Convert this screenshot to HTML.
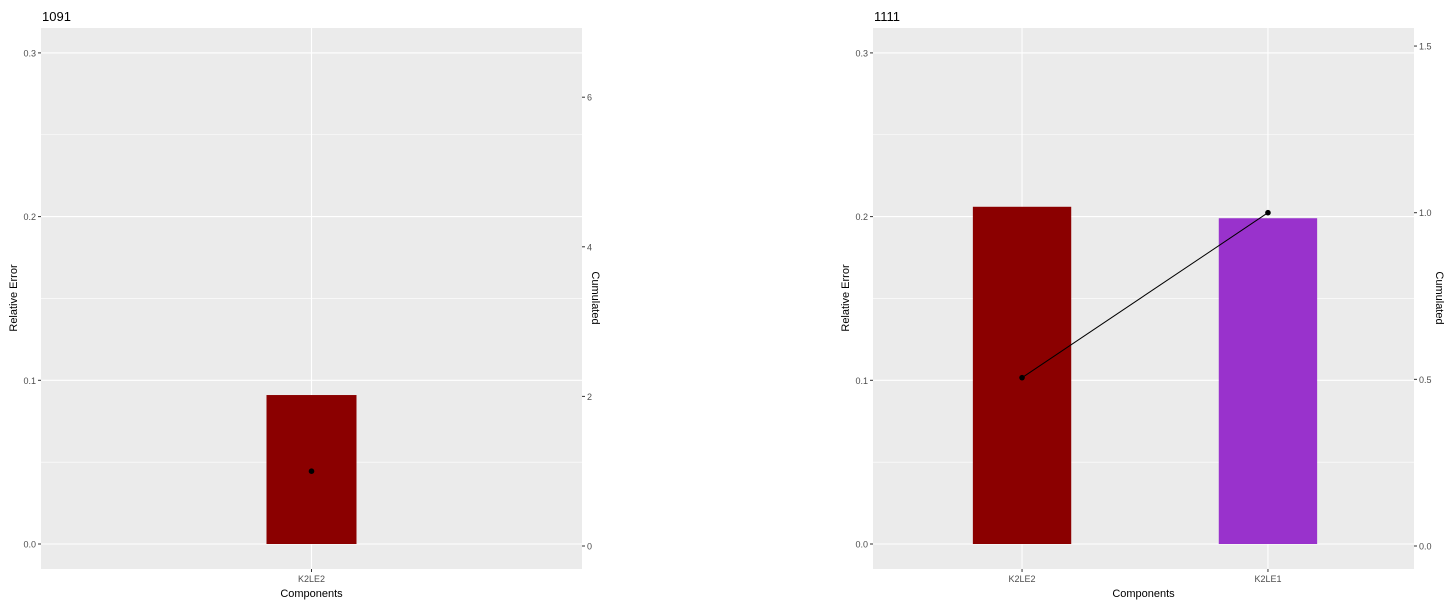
<!DOCTYPE html>
<html><head><meta charset="utf-8"><style>
body{margin:0;background:#fff;width:1455px;height:603px;overflow:hidden;font-family:"Liberation Sans",Arial,sans-serif}
svg{display:block}
</style></head><body>
<svg id="c" width="1455" height="603" xmlns="http://www.w3.org/2000/svg"></svg>
<script>
const titles=["1091","1111"];
const cats0=["K2LE2"];
const vals0=[0.091];
const cum0=[1];
const cats1=["K2LE2","K2LE1"];
const vals1=[0.206,0.199];
const cum1=[0.505,1.0];
const colors1=["#8B0000","#9932CC"];
const yTicks=[0,0.1,0.2,0.3];
const yLabels=["0.0","0.1","0.2","0.3"];
const rTicks0=[0,2,4,6];
const rTicks1=[0,0.5,1.0,1.5];
const rLabels1=["0.0","0.5","1.0","1.5"];

const NS="http://www.w3.org/2000/svg";
const svg=document.getElementById('c');
function mk(tag,attrs,parent){const e=document.createElementNS(NS,tag);for(const k in attrs)e.setAttribute(k,attrs[k]);(parent||svg).appendChild(e);return e;}

function panel(ox,title,cats,vals,cum,cols,rTicks,rLabels,rScale,rTitleOff){
  const g=mk('g',{});
  
  
  const L=ox,R=ox+541,T=28,B=569;
  const y=v=>544-v*1637;
  const n=cats.length;
  const x=i=> n===1 ? (L+R)/2 : L+1.5+(R-L)*(i+0.6)/(n+0.2);
  const bw= n===1 ? 90 : 0.4*(R-L)/(n+0.2);
  const bg=mk('rect',{x:L,y:T,width:R-L,height:B-T,fill:'#EBEBEB'},g);
  
  
  for(let i=0;i<yTicks.length-1;i++){mk('line',{x1:L,x2:R,y1:y(yTicks[i]+0.05),y2:y(yTicks[i]+0.05),stroke:'#fff','stroke-width':0.6},g);}
  yTicks.forEach((t,i)=>{
    mk('line',{x1:L,x2:R,y1:y(t),y2:y(t),stroke:'#fff','stroke-width':1.1},g);
    mk('line',{x1:L-3,x2:L,y1:y(t),y2:y(t),stroke:'#333'},g);
    const tx=mk('text',{x:L-5,y:y(t)+3.5,'font-size':9,fill:'#4D4D4D','text-anchor':'end'},g);
    tx.textContent=yLabels[i];
    
    
  });
  rTicks.forEach((t,i)=>{
    const yy=546-t*rScale;
    mk('line',{x1:R,x2:R+3,y1:yy,y2:yy,stroke:'#333'},g);
    const tx=mk('text',{x:R+5,y:yy+3.5,'font-size':9,fill:'#4D4D4D'},g);
    tx.textContent=rLabels[i];
    
    
  });
  const xs=cats.map((c,i)=>x(i));
  xs.forEach((cx,i)=>{
    mk('line',{x1:cx,x2:cx,y1:T,y2:B,stroke:'#fff','stroke-width':1.1},g);
    const b=mk('rect',{x:cx-bw/2,y:y(vals[i]),width:bw,height:y(0)-y(vals[i]),fill:cols[i]},g);
    
    
    mk('line',{x1:cx,x2:cx,y1:B,y2:B+3,stroke:'#333'},g);
    const tx=mk('text',{x:cx,y:B+13,'font-size':9,fill:'#4D4D4D','text-anchor':'middle'},g);
    tx.textContent=cats[i];
    
    
  });
  if(n>1){
    const pts=xs.map((cx,i)=>cx+','+(546-cum[i]*rScale)).join(' ');
    const pl=mk('polyline',{points:pts,fill:'none',stroke:'#000','stroke-width':1},g);
    
    
  }
  xs.forEach((cx,i)=>{
    const c=mk('circle',{cx:cx,cy:546-cum[i]*rScale,r:2.8,fill:'#000'},g);
    
    
  });
  const tt=mk('text',{x:L+1,y:21,'font-size':13,fill:'#000'},g);
  tt.textContent=title;
  
  
  const yl=mk('text',{x:0,y:0,'font-size':11,fill:'#000','text-anchor':'middle',transform:`translate(${L-24},298) rotate(-90)`},g);
  yl.textContent='Relative Error';
  
  
  const rl=mk('text',{x:0,y:0,'font-size':11,fill:'#000','text-anchor':'middle',transform:`translate(${R+rTitleOff},298) rotate(90)`},g);
  rl.textContent='Cumulated';
  
  
  const xl=mk('text',{x:(L+R)/2,y:597,'font-size':11,fill:'#000','text-anchor':'middle'},g);
  xl.textContent='Components';
  
  
}
panel(41,titles[0],cats0,vals0,cum0,["#8B0000"],rTicks0,rTicks0.map(String),74.8,10);
panel(873,titles[1],cats1,vals1,cum1,colors1,rTicks1,rLabels1,333.3,22);
</script>
</body></html>
